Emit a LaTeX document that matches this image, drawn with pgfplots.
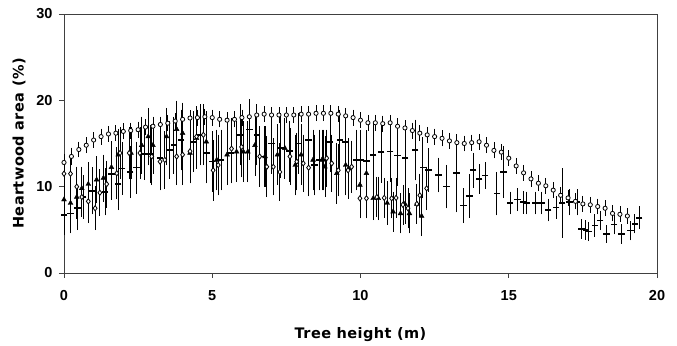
\documentclass[border=0pt]{standalone}
\usepackage{fontspec}
\setmainfont{Liberation Sans}
\newfontfamily\labelfont[LetterSpace=3]{DejaVu Sans}
\usepackage{pgfplots}
\pgfplotsset{compat=1.18}
\begin{document}
\begin{tikzpicture}
\begin{axis}[name=ax,
  scale only axis, width=593bp, height=259bp,
  xmin=0, xmax=20, ymin=0, ymax=30,
  xtick={0,5,10,15,20}, ytick={0,10,20,30},
  tick pos=left, tick align=outside, major tick length=5bp,
  axis line style={black!75, line width=1pt},
  tick style={black!75, line width=1pt},
  /pgf/number format/assume math mode=true,
  ticklabel style={font=\fontsize{14.5bp}{16bp}\selectfont\bfseries},
  xticklabel style={yshift=-9bp},
  yticklabel style={xshift=-3bp},
  xlabel={Tree height (m)}, ylabel={Heartwood area (\%)},
  label style={font=\labelfont\fontsize{14.5bp}{17bp}\selectfont\bfseries},
  xlabel style={yshift=-20bp},
  ylabel style={yshift=4bp},
  clip=false,
  error bars/error mark=-,
  error bars/error mark options={mark size=4.5bp, line width=0.8pt, black},
  error bars/error bar style={line width=0.8pt, black},
]
% dashes
\addplot[only marks, mark=-, mark size=3.2bp, mark options={line width=1.6pt}, black,
  error bars/.cd, y dir=both, y explicit]
table[x index=0, y index=1, y error index=2] {
0 6.7 1.8
0.22 6.9 1.8
0.45 7.5 2
0.65 8.8 2
0.95 9.5 2.2
1.38 9.4 2.2
1.6 11.5 2.5
1.83 10.3 2.5
1.96 12.1 2.5
2.23 11.7 2.5
2.45 12.2 2.5
2.7 13.8 2.5
2.9 13.8 2.8
3.24 13.3 2.8
3.57 14.25 2.8
3.7 14.8 2.8
3.95 15.4 3
4.35 15.2 3
4.6 16.0 3
4.8 13.9 3
5.0 12.9 3
5.3 13.1 3
5.64 13.9 3
5.94 16.0 3
6.25 16.6 3
6.5 16.0 3
6.75 13.5 3
7.0 15.0 3
7.3 14.5 3
7.6 14.1 3
7.9 15.0 3
8.24 15.4 3
8.45 12.5 3
8.6 13.1 3
8.75 13.1 3
8.97 15.2 3
9.3 15.4 3
9.5 15.2 3
9.87 13.1 3
10.0 13.1 3
10.2 13.0 3
10.43 13.7 3
10.7 14.0 3
11.0 14.05 3
11.25 13.6 3
11.5 13.3 3
11.84 14.25 3
12.1 12.2 3
12.3 11.9 2
12.63 11.35 1.5
12.9 10.0 2
13.24 11.55 4
13.47 7.8 1.5
13.67 8.9 2
13.8 11.9 1.5
14.0 10.9 1.2
14.2 11.3 1.0
14.6 9.2 2.0
14.82 11.7 2.5
15.04 8.1 0.8
15.3 8.5 0.8
15.5 8.2 0.8
15.6 8.1 0.8
15.9 8.1 0.8
16.1 8.1 0.8
16.33 7.3 0.8
16.6 7.6 0.8
16.8 8.1 3.5
17.05 8.2 1.0
17.3 8.2 1.0
17.46 5.1 0.6
17.6 5.0 0.6
17.7 4.8 0.6
17.9 5.5 0.8
18.08 6.1 0.6
18.3 4.5 0.5
18.55 5.6 0.6
18.8 4.5 0.6
19.1 4.9 0.6
19.25 5.7 0.6
19.4 6.4 0.8
};
% triangles
\addplot[only marks, mark=triangle*, mark size=2.8bp, black,
  error bars/.cd, y dir=both, y explicit]
table[x index=0, y index=1, y error index=2] {
0 8.5 1.8
0.22 8.1 1.8
0.43 8.8 2
0.6 9.8 2
0.82 10.3 2
1.1 10.8 2.2
1.33 11.0 2.2
1.6 12.25 2.5
1.83 13.7 2.5
2.26 13.9 2.5
2.62 14.8 2.8
2.84 15.8 2.8
3.0 14.8 2.8
3.46 15.8 2.8
3.8 16.65 2.8
4.0 16.2 3.0
4.25 13.9 3.0
4.47 15.6 3.0
4.8 15.2 3.0
5.15 13.1 3
5.5 13.7 3
5.82 14.05 3
6.05 14.05 3
6.2 14.05 3
6.44 14.8 3
6.78 13.5 3
7.2 13.7 3
7.45 14.45 3
7.8 12.5 3
8.0 13.7 3
8.4 13.1 3
8.7 13.1 3
8.8 12.3 3
9.2 11.55 3
9.5 12.5 3
9.6 12.1 3
9.98 10.2 2.5
10.2 11.55 2.5
10.43 8.65 2
10.6 8.65 2
10.9 8.1 2
11.1 7.1 1.8
11.35 6.9 1.8
11.5 8.0 1.8
11.65 6.9 1.8
11.9 8.0 1.8
12.06 6.6 1.8
};
% diamonds
\addplot[only marks, mark=diamond*, mark size=2.6bp, mark options={fill=white, draw=black, line width=0.8pt}, black,
  error bars/.cd, y dir=both, y explicit]
table[x index=0, y index=1, y error index=2] {
0 11.5 1.5
0.22 11.5 1.5
0.43 10.0 1.8
0.6 8.8 1.8
0.82 8.3 2.0
1.05 7.5 2.0
1.21 9.3 2.2
1.44 10.3 2.2
1.78 11.55 2.5
1.89 13.9 2.5
2.2 13.9 2.5
2.56 13.9 2.5
2.96 13.5 2.8
3.24 12.9 2.8
3.4 13.1 2.8
3.8 13.5 2.8
4.0 13.7 3.0
4.25 14.1 3.0
4.47 15.8 3.0
4.7 16.0 3.0
5.03 11.9 3.0
5.2 12.5 3.0
5.65 14.4 3.0
5.99 14.6 3.0
6.6 13.5 3.0
6.84 12.3 3.0
7.06 12.3 2.8
7.28 11.7 2.8
7.62 13.5 2.8
7.85 12.9 2.8
8.07 12.7 2.8
8.25 12.2 2.8
8.86 13.3 2.8
9.03 12.7 2.8
9.25 11.9 2.5
9.58 11.9 2.5
9.7 12.3 2.5
9.98 8.65 1.8
10.2 8.65 1.8
10.55 8.8 1.8
10.8 8.7 1.8
11.05 8.65 1.8
11.2 8.7 1.8
11.43 7.9 1.8
11.6 7.5 1.8
11.9 8.0 1.8
12.0 9.0 2.0
12.23 9.8 2.0
};
% circles
\addplot[only marks, mark=*, mark size=2.1bp, mark options={fill=white, draw=black, line width=0.8pt}, black,
  error bars/.cd, y dir=both, y explicit]
table[x index=0, y index=1, y error index=2] {
0 12.8 0.5
0.25 13.5 0.5
0.5 14.3 0.4
0.75 14.8 0.4
1.0 15.4 0.4
1.25 15.8 0.4
1.5 16.1 0.4
1.75 16.2 0.4
2.0 16.4 0.4
2.25 16.5 0.4
2.5 16.6 0.4
2.75 16.9 0.4
3.0 17.0 0.4
3.25 17.2 0.4
3.5 17.35 0.4
3.75 17.6 0.4
4.0 17.8 0.4
4.25 17.95 0.4
4.5 18.0 0.4
4.75 18.1 0.4
5.0 18.0 0.4
5.25 17.8 0.4
5.5 17.7 0.4
5.75 17.8 0.4
6.0 18.0 0.4
6.25 18.1 0.4
6.5 18.3 0.4
6.75 18.4 0.4
7.0 18.3 0.4
7.25 18.3 0.4
7.5 18.3 0.4
7.75 18.3 0.4
8.0 18.4 0.4
8.25 18.4 0.4
8.5 18.5 0.4
8.75 18.5 0.4
9.0 18.5 0.4
9.25 18.4 0.4
9.5 18.2 0.4
9.75 18.0 0.4
10.0 17.7 0.4
10.25 17.4 0.4
10.5 17.4 0.4
10.75 17.3 0.4
11.0 17.4 0.4
11.25 17.0 0.4
11.5 16.8 0.4
11.75 16.5 0.4
12.0 16.2 0.4
12.25 16.0 0.4
12.5 15.8 0.4
12.75 15.6 0.4
13.0 15.3 0.4
13.25 15.1 0.4
13.5 15.0 0.4
13.75 15.1 0.4
14.0 15.2 0.4
14.25 14.8 0.4
14.5 14.2 0.4
14.75 14.0 0.4
15.0 13.3 0.4
15.25 12.4 0.4
15.5 11.6 0.4
15.75 10.9 0.4
16.0 10.4 0.4
16.25 10.1 0.4
16.5 9.6 0.4
16.75 9.0 0.4
17.0 8.7 0.4
17.25 8.3 0.4
17.5 8.0 0.4
17.75 7.9 0.4
18.0 7.7 0.4
18.25 7.5 0.4
18.5 6.9 0.4
18.75 6.8 0.4
19.0 6.6 0.4
};
\end{axis}
\path (ax.south west) ++(-64bp,-71bp);
\path (ax.north east) ++(20bp,14bp);
\end{tikzpicture}
\end{document}
